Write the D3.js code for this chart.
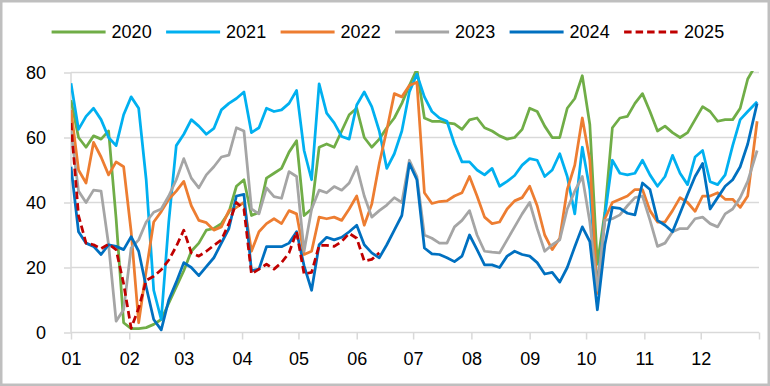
<!DOCTYPE html>
<html>
<head>
<meta charset="utf-8">
<script src="https://cdn.jsdelivr.net/npm/d3@7"></script>
<style>
  body { margin: 0; background: #fff; }
  svg text { font-family: "Liberation Sans", Arial, sans-serif; fill: #000; }
</style>
</head>
<body>
<div id="chart"></div>
<script>
const years = ["2020", "2021", "2022", "2023", "2024", "2025"];
const colors = ["#70ad47", "#00b0f0", "#ed7d31", "#a5a5a5", "#0070c0", "#c00000"];
const monthLabels = ["01", "02", "03", "04", "05", "06", "07", "08", "09", "10", "11", "12"];
const monthStarts = [0, 31, 60, 91, 121, 152, 182, 213, 244, 274, 305, 335];
const yTicks = [0, 20, 40, 60, 80];

// day of year for each sample (every 4 days)
const days = d3.range(0, 361, 4).concat([365]);

const v2020 = [71.5, 60, 57, 60.5, 59.5, 62, 35, 3, 1.2, 1.2,
  1.5, 2.5, 4, 9, 14, 19, 25, 27.5, 31.5, 32,
  33.5, 37, 45, 47, 36, 37, 47.5, 49, 50.5, 55.5,
  59, 36, 38, 57, 58, 57, 62, 67, 69, 60,
  57, 59.5, 63, 66, 70.5, 76, 81, 66, 65, 65,
  64.5, 64.2, 62.5, 65.4, 66, 63, 62, 60.5, 59.5, 60,
  62.5, 69, 68, 63.5, 60, 60, 69, 72, 79, 64,
  21, 37, 63, 66, 66.5, 70.5, 73.5, 68, 62, 63.5,
  61.5, 60, 61.5, 65.5, 69.5, 68, 65, 65.5, 65.5, 69,
  78, 83];
const v2021 = [76.7, 62.5, 66.5, 69, 65.5, 60, 57.5, 67, 72.5, 69,
  47, 13, 4, 34, 57.5, 61, 65.5, 63.5, 61, 62.8,
  68.5, 70.5, 72, 74, 61.5, 63, 69, 68, 68.5, 70.5,
  74.5, 56, 47, 76.5, 67.5, 64.5, 60.3, 59.5, 70, 74,
  69.5, 62, 50.5, 55, 62, 74, 79.5, 72.5, 68, 66,
  65, 58, 52.5, 52.5, 50, 48.5, 50.5, 45, 46.5, 48.3,
  51.5, 53.5, 53, 48, 50, 55, 48, 36.5, 57, 44,
  14, 36, 53, 49, 48.5, 49, 53, 48.5, 45, 48,
  54.5, 49, 45.5, 54, 56, 46.4, 45.5, 48.5, 57.5, 65.5,
  68, 71];
const v2022 = [68.5, 50, 46, 58.5, 54, 48.5, 52.5, 51, 31, 3,
  19, 34, 37.2, 41, 43.5, 46.5, 39, 34.5, 33.8, 31.5,
  32.5, 37.5, 38.5, 40, 25, 31, 33.5, 35, 33.5, 37.5,
  36.5, 24, 25, 35.5, 35, 35.5, 34.5, 38, 42, 33,
  39.5, 52, 62.3, 73.5, 72.5, 76, 77, 43, 39.7, 40.3,
  40.5, 42, 43, 48, 42, 35.5, 33.5, 34, 38, 40.5,
  41.5, 45, 39, 30, 25.5, 29, 44, 51.5, 66, 53,
  12, 35, 40, 41, 42, 44, 44, 37.5, 34, 34,
  37.5, 41.5, 40, 37.3, 42, 42, 43, 41, 41, 38.5,
  42, 65];
const v2023 = [62, 43.5, 40, 43.8, 43.5, 27, 3.5, 7, 26, 28.5,
  34, 37, 38, 42, 47, 53.5, 47.5, 44.5, 48.5, 51,
  54, 54.6, 63, 62, 38, 36.5, 44.5, 41.8, 41.3, 49.5,
  48, 25, 38, 43.8, 43, 44.9, 43.8, 46, 51, 42,
  35.5, 37.5, 39.2, 41.5, 40, 53, 48, 30, 29, 27.5,
  27.5, 32.5, 34.5, 37.5, 30, 25, 24.7, 24.5, 28.5, 32.5,
  36.5, 40, 32, 25, 27, 28.5, 38, 43.5, 48, 34,
  13, 34.5, 35, 36.2, 39, 41.5, 42, 34.6, 26.5, 27.5,
  31, 32, 32, 35, 35.5, 33.5, 32.5, 36.5, 38, 41.5,
  46.5, 56];
const v2024 = [51, 31, 27.5, 26.5, 24, 27, 26.5, 25.5, 29.5, 25,
  14, 4, 0.8, 10, 15.5, 21.5, 20, 17.5, 20.3, 23,
  27.5, 32, 42, 42.5, 19, 19.5, 26.4, 26.4, 26.4, 27.5,
  31, 20.5, 13, 27, 29.3, 28.5, 29.3, 31, 33, 27,
  24.5, 23, 27, 31.5, 36, 52, 47, 26, 24.2, 24,
  23, 21.8, 23.5, 30, 25.5, 20.8, 20.8, 20, 23.5, 25,
  24, 23.5, 21.5, 18, 18.5, 15.5, 20, 26.4, 32.5, 28,
  7, 27, 38.5, 38.2, 36.7, 36.2, 46, 44, 34.5, 33,
  31, 36.7, 42.5, 48, 52, 38, 41.5, 45, 47, 51,
  58, 70.5];
const v2025 = [64.5, 36, 27.5, 27, 25.8, 27.2, 25.5, 15, 1.3, 7.5,
  16, 17.3, 19.3, 22.3, 26.5, 31.5, 24.5, 23.5, 25, 26.8,
  28.5, 33.5, 40, 38, 18, 19.5, 21, 19.5, 21.5, 24.5,
  31, 18, 18.5, 26.8, 26.8, 26.5, 28, 30.5, 29, 22,
  22.5, 24.5];

const series = [v2020, v2021, v2022, v2023, v2024, v2025].map((vals, k) => ({
  year: years[k],
  color: colors[k],
  dashed: years[k] === "2025",
  points: vals.map((v, i) => ({day: days[i], value: v}))
}));

const width = 770, height = 386;
const margin = {top: 72.5, right: 11, bottom: 53.5, left: 71};

const svg = d3.select("#chart")
  .append("svg")
    .attr("width", width)
    .attr("height", height);

// outer frame
svg.append("rect")
  .attr("x", 1.25).attr("y", 1.25)
  .attr("width", width - 2.5).attr("height", height - 2.5)
  .attr("fill", "#fff")
  .attr("stroke", "#bfbfbf")
  .attr("stroke-width", 2.5);

const x = d3.scaleLinear()
  .domain([0, 366])
  .range([margin.left, width - margin.right]);

const y = d3.scaleLinear()
  .domain([0, 80])
  .range([height - margin.bottom, margin.top]);

// gridlines
svg.append("g")
  .selectAll("line")
  .data(yTicks.filter(d => d > 0))
  .join("line")
    .attr("x1", x(0))
    .attr("x2", x(366))
    .attr("y1", d => y(d))
    .attr("y2", d => y(d))
    .attr("stroke", "#d9d9d9")
    .attr("stroke-width", 1.5);

const yAxis = svg.append("g")
  .attr("transform", `translate(${x(0)},0)`)
  .call(d3.axisLeft(y).tickValues(yTicks).tickSize(7).tickPadding(18).tickFormat(d3.format("d")));
yAxis.selectAll("line, path").attr("stroke", "#d9d9d9").attr("stroke-width", 1.5);
yAxis.select(".domain").attr("d", `M0,${y(0)}V${y(80)}`);
yAxis.selectAll("text").style("font-size", "18px");

const xAxis = svg.append("g")
  .attr("transform", `translate(0,${y(0)})`)
  .call(d3.axisBottom(x).tickValues(monthStarts.concat([366])).tickSize(7).tickPadding(13)
    .tickFormat((d, i) => monthLabels[i] || ""));
xAxis.selectAll("line, path").attr("stroke", "#d9d9d9").attr("stroke-width", 1.5);
xAxis.select(".domain").attr("d", `M${x(0)},0H${x(366)}`);
xAxis.selectAll("text").style("font-size", "18px");

svg.append("clipPath")
  .attr("id", "plot-clip")
  .append("rect")
    .attr("x", x(0))
    .attr("y", y(80) - 1.5)
    .attr("width", x(366) - x(0) + 2)
    .attr("height", y(0) - y(80) + 6);

const line = d3.line()
  .x(d => x(d.day))
  .y(d => y(d.value));

svg.append("g")
  .attr("clip-path", "url(#plot-clip)")
  .selectAll("path")
  .data(series)
  .join("path")
    .attr("d", d => line(d.points))
    .attr("fill", "none")
    .attr("stroke", d => d.color)
    .attr("stroke-width", 2.75)
    .attr("stroke-linejoin", "round")
    .attr("stroke-dasharray", d => d.dashed ? "7.5,4" : null);

// legend
const legend = svg.append("g")
  .selectAll("g")
  .data(series)
  .join("g")
    .attr("transform", (d, i) => `translate(${51.6 + i * 114.5},32)`);

legend.append("line")
  .attr("x1", 0).attr("x2", 54)
  .attr("stroke", d => d.color)
  .attr("stroke-width", 3)
  .attr("stroke-dasharray", d => d.dashed ? "7.5,4" : null);

legend.append("text")
  .attr("x", 60)
  .attr("dy", "0.35em")
  .style("font-size", "18px")
  .text(d => d.year);
</script>
</body>
</html>
